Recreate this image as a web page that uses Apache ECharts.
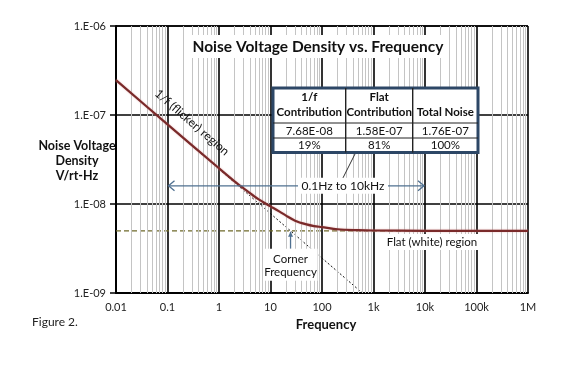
<!DOCTYPE html>
<html><head><meta charset="utf-8">
<script src="https://cdn.jsdelivr.net/npm/echarts@6/dist/echarts.min.js"></script>
<style>html,body{margin:0;padding:0;background:#fff}#c{width:586px;height:365px}</style>
</head><body><div id="c"></div>
<script>
// ---- data ----
const xTickLabels = ['0.01','0.1','1','10','100','1k','10k','100k','1M'];
const yTickLabels = ['1.E-09','1.E-08','1.E-07','1.E-06'];
const totalFreq  = [0.01, 0.1, 1, 2, 3, 5, 7, 10, 15, 20, 30, 50, 70, 100, 200, 500, 1000, 10000, 100000, 1000000];
const totalNoise = [2.47e-7, 7.83e-8, 2.52e-8, 1.8e-8, 1.5e-8, 1.2e-8, 1.06e-8, 9.4e-9, 8.2e-9, 7.4e-9, 6.5e-9, 5.9e-9, 5.65e-9, 5.5e-9, 5.2e-9, 5.08e-9, 5.04e-9, 5.0e-9, 5.0e-9, 5.0e-9];
const flickerFreq  = [0.01, 620];
const flickerNoise = [2.47e-7, 9.9e-10];
const flatFreq  = [0.01, 1000000];
const flatNoise = [5.0e-9, 5.0e-9];
const tableHeader  = ['1/f\nContribution', 'Flat\nContribution', 'Total Noise'];
const tableValues  = ['7.68E-08', '1.58E-07', '1.76E-07'];
const tablePercent = ['19%', '81%', '100%'];
const bandStart = 0.1, bandEnd = 10000, bandLevel = 1.6e-8;
const cornerFreq = 24.5;

const FONT = 'Lato';
const minorX = [], minorY = [];
for (let e = -2; e < 6; e++) for (let m = 2; m <= 9; m++) minorX.push({xAxis: m * Math.pow(10, e)});
for (let e = -9; e < -6; e++) for (let m = 2; m <= 9; m++) minorY.push({yAxis: m * Math.pow(10, e)});

const chart = echarts.init(document.getElementById('c'), null, {renderer: 'canvas'});
const zip = (a, b) => a.map((v, i) => [v, b[i]]);
const lbl = (arr, base) => v => arr[Math.round(Math.log10(v)) - base] || '';

chart.setOption({
  animation: false,
  backgroundColor: '#fff',
  grid: {left: 116, right: 58, top: 26, bottom: 72, containLabel: false},
  xAxis: {
    type: 'log', logBase: 10, min: 0.01, max: 1000000,
    name: 'Frequency', nameLocation: 'middle', nameGap: 20,
    nameTextStyle: {fontFamily: FONT, fontWeight: 'bold', fontSize: 13, color: '#111', padding: [0, 0, 0, 8]},
    axisLine: {show: true, lineStyle: {color: '#000', width: 2}},
    axisTick: {show: false},
    axisLabel: {formatter: lbl(xTickLabels, -2), fontFamily: FONT, fontSize: 11, color: '#222', margin: 9},
    splitLine: {show: true, lineStyle: {color: '#000', width: 1.6}},
    minorTick: {show: false}, minorSplitLine: {show: false}
  },
  yAxis: {
    type: 'log', logBase: 10, min: 1e-9, max: 1e-6,
    axisLine: {show: true, lineStyle: {color: '#000', width: 2}},
    axisTick: {show: true, length: 6, inside: false, lineStyle: {color: '#000', width: 1.5}},
    axisLabel: {formatter: lbl(yTickLabels, -9), fontFamily: FONT, fontSize: 11, color: '#222', margin: 10},
    splitLine: {show: true, lineStyle: {color: '#000', width: 1.6}}
  },
  series: [
    {type: 'line', name: 'minor', data: [[0.01, 1e-9]], symbol: 'none', z: 1, silent: true,
     lineStyle: {opacity: 0},
     markLine: {silent: true, symbol: ['none', 'none'], label: {show: false}, animation: false,
       lineStyle: {type: 'solid', color: '#c4c4c4', width: 1}, emphasis: {disabled: true},
       data: minorX.concat(minorY)}},
    {type: 'line', name: 'flat', data: zip(flatFreq, flatNoise), symbol: 'none', z: 3,
     lineStyle: {color: '#6f6a2a', width: 1.3, type: [5, 3]}},
    {type: 'line', name: 'flicker', data: zip(flickerFreq, flickerNoise), symbol: 'none', z: 3,
     lineStyle: {color: '#111', width: 1, type: [2, 2]}},
    {type: 'line', name: 'total', data: zip(totalFreq, totalNoise), symbol: 'none', smooth: 0.3, z: 5,
     lineStyle: {color: '#7a2a2a', width: 2.2, shadowColor: 'rgba(220,150,150,0.6)', shadowBlur: 2}}
  ]
});

// ---- annotations ----
const P = (x, y) => chart.convertToPixel({gridIndex: 0}, [x, y]);
const g = [];
const BLUE = '#4f7090';
function txt(x, y, s, o) {
  g.push({type: 'text', x: x, y: y, z: 20, style: Object.assign({text: s, fontFamily: FONT, fontSize: 11, fill: '#111', align: 'center', verticalAlign: 'middle'}, o || {})});
}
// title
g.push({type: 'rect', shape: {x: 190, y: 35, width: 254, height: 23}, style: {fill: '#fff'}, z: 10});
txt(318, 47, 'Noise Voltage Density vs. Frequency', {fontSize: 15.5, fontWeight: 'bold'});
// y-axis title
txt(77, 161, 'Noise Voltage\nDensity\nV/rt-Hz', {fontSize: 12.5, fontWeight: 'bold', lineHeight: 15});
// figure label
txt(32, 322, 'Figure 2.', {fontSize: 12, align: 'left', fill: '#222'});
// 1/f text along line
g.push({type: 'text', x: 188, y: 127, rotation: -0.712, z: 20,
  style: {text: '1/f (flicker) region', fontFamily: FONT, fontSize: 12, fill: '#111', align: 'center', verticalAlign: 'bottom'}});
// band arrow
const a0 = P(bandStart, bandLevel), a1 = P(bandEnd, bandLevel);
g.push({type: 'line', shape: {x1: a0[0] + 1, y1: a0[1], x2: a1[0] - 1, y2: a1[1]}, style: {stroke: BLUE, lineWidth: 1.3}, z: 12});
g.push({type: 'polyline', shape: {points: [[a0[0] + 7, a0[1] - 5], [a0[0] + 1, a0[1]], [a0[0] + 7, a0[1] + 5]]}, style: {stroke: BLUE, lineWidth: 1.3, fill: null}, z: 12});
g.push({type: 'polyline', shape: {points: [[a1[0] - 7, a1[1] - 5], [a1[0] - 1, a1[1]], [a1[0] - 7, a1[1] + 5]]}, style: {stroke: BLUE, lineWidth: 1.3, fill: null}, z: 12});
g.push({type: 'rect', shape: {x: 298, y: a0[1] - 8, width: 90, height: 16}, style: {fill: '#fff'}, z: 14});
txt(343, a0[1], '0.1Hz to 10kHz', {fontSize: 12});
g.push({type: 'line', shape: {x1: 343, y1: a0[1] - 8, x2: 356, y2: 152}, style: {stroke: '#333', lineWidth: 1}, z: 15});
// corner frequency
const c0 = P(cornerFreq, flatNoise[0]);
g.push({type: 'line', shape: {x1: c0[0], y1: c0[1] + 1, x2: c0[0], y2: c0[1] + 18}, style: {stroke: BLUE, lineWidth: 1.3}, z: 12});
g.push({type: 'polygon', shape: {points: [[c0[0] - 2.5, c0[1] + 6], [c0[0], c0[1] + 1], [c0[0] + 2.5, c0[1] + 6]]}, style: {fill: BLUE}, z: 12});
g.push({type: 'rect', shape: {x: c0[0] - 27, y: c0[1] + 18, width: 54, height: 32}, style: {fill: '#fff'}, z: 14});
txt(c0[0], c0[1] + 35, 'Corner\nFrequency', {fontSize: 11.5, lineHeight: 13});
// flat region
g.push({type: 'rect', shape: {x: 385, y: 234, width: 94, height: 16}, style: {fill: '#fff'}, z: 14});
txt(432, 242, 'Flat (white) region', {fontSize: 11.5});
// table
const tx = [273, 345.7, 412.7, 478], ty = [88, 123, 138, 152.5];
g.push({type: 'rect', shape: {x: tx[0], y: ty[0], width: tx[3] - tx[0], height: ty[3] - ty[0]}, style: {fill: '#fff', stroke: '#2d4766', lineWidth: 3}, z: 16});
for (let i = 1; i < 3; i++) g.push({type: 'line', shape: {x1: tx[i], y1: ty[0], x2: tx[i], y2: ty[3]}, style: {stroke: '#222', lineWidth: 1.4}, z: 17});
for (let j = 1; j < 3; j++) g.push({type: 'line', shape: {x1: tx[0], y1: ty[j], x2: tx[3], y2: ty[j]}, style: {stroke: '#222', lineWidth: 1}, z: 17});
for (let i = 0; i < 3; i++) {
  const cx = (tx[i] + tx[i + 1]) / 2;
  g.push({type: 'text', x: cx, y: ty[1] - 3, z: 18, style: {text: tableHeader[i], fontFamily: FONT, fontSize: 11.5, fontWeight: 'bold', fill: '#111', align: 'center', verticalAlign: 'bottom', lineHeight: 15}});
  txt(cx, (ty[1] + ty[2]) / 2 + 0.5, tableValues[i], {fontSize: 11.5});
  txt(cx, (ty[2] + ty[3]) / 2 + 0.5, tablePercent[i], {fontSize: 11.5});
}
chart.setOption({graphic: {elements: g}});
</script></body></html>
